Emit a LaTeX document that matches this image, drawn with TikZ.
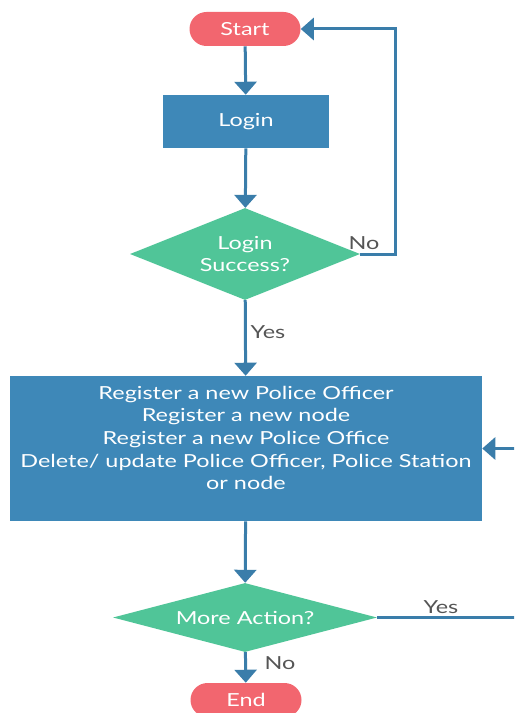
\documentclass[tikz,border=0pt]{standalone}
\usepackage{fontspec}
\setmainfont{Lato}[FakeStretch=1.3]
\usetikzlibrary{shapes.geometric,arrows.meta}

\definecolor{terminal}{HTML}{F2666F}
\definecolor{proceso}{HTML}{3E88B8}
\definecolor{decision}{HTML}{50C598}
\definecolor{flecha}{HTML}{3A7DAA}
\definecolor{etiqueta}{HTML}{555555}

\newlength{\pxu}
\setlength{\pxu}{0.75pt}

\tikzset{
  base/.style={text=white, font=\fontsize{13.5}{17}\selectfont, align=center, inner sep=0pt},
  pill/.style={base, fill=terminal, rounded corners=17\pxu, minimum width=111\pxu, minimum height=34\pxu},
  caja/.style={base, fill=proceso, minimum width=166\pxu, minimum height=53\pxu},
  rombo/.style={base, fill=decision, diamond},
  etq/.style={text=etiqueta, font=\fontsize{13.5}{17}\selectfont, inner sep=0pt},
  linea/.style={draw=flecha, line width=3\pxu}
}

\begin{document}
\begin{tikzpicture}[x=0.75pt, y=-0.75pt, >={Triangle[width=16.5pt, length=9.75pt]}]
  % Marco
  \clip (0,0) rectangle (514,713);

  % Inicio y fin
  \node[pill] (start) at (245,29) {Start};
  \node[pill] (end) at (246,700) {End};

  % Login
  \node[caja] (login) at (246,121.5) {Login};

  % Decision del login
  \node[rombo, aspect=2.4, minimum width=230\pxu, minimum height=92\pxu] (ok) at (245,254) {Login\\Success?};

  % Acciones del administrador
  \node[caja, minimum width=472\pxu, minimum height=145\pxu, text depth=16pt] (tasks) at (246,448.5)
    {Register a new Police Officer\\
     Register a new node\\
     Register a new Police Office\\
     Delete/ update Police Officer, Police Station\\
     or node};

  % Decision final
  \node[rombo, aspect=3.8, minimum width=264\pxu, minimum height=69\pxu] (more) at (245,617.5) {More Action?};

  % Conectores
  \draw[linea, ->] (start) -- (login);
  \draw[linea, ->] (login) -- (ok);
  \draw[linea, ->] (ok) -- (tasks);
  \draw[linea, ->] (tasks) -- (more);
  \draw[linea, ->] (more) -- (end);
  \draw[linea, ->] (ok.east) -- ++(35,0) |- (start.east);
  \coordinate (vuelta) at (540,617.5);
  \draw[linea, ->] (more.east) -- (vuelta) |- (tasks.east);

  % Etiquetas
  \node[etq] (no1) at (364,243) {No};
  \node[etq] (si1) at (268,332) {Yes};
  \node[etq] (si2) at (441,607) {Yes};
  \node[etq] (no2) at (280,663) {No};
\end{tikzpicture}
\end{document}
